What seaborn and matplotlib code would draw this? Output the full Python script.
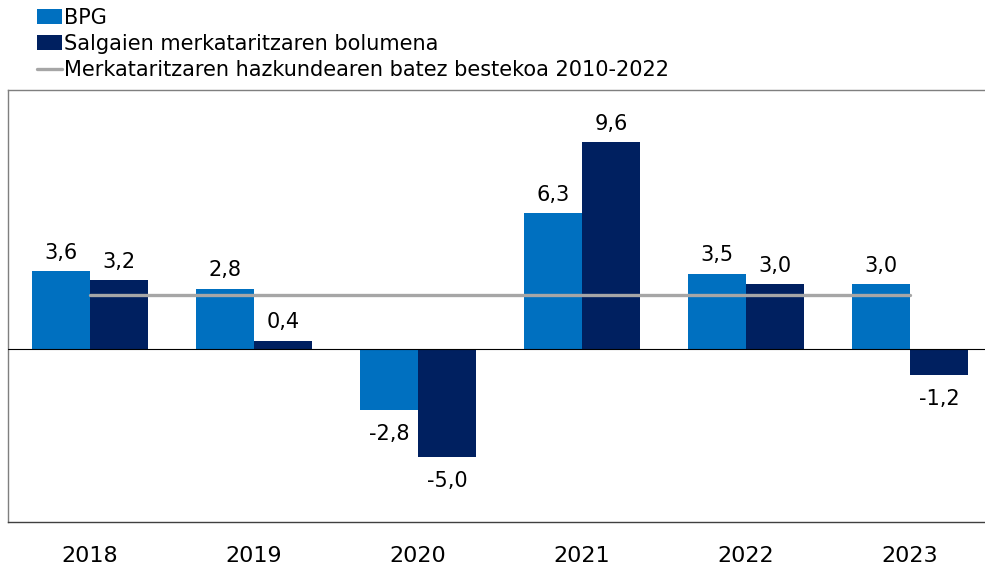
import numpy as np
import pandas as pd
import matplotlib
matplotlib.use("Agg")
import matplotlib.pyplot as plt
from matplotlib.patches import Patch
from matplotlib.lines import Line2D
import seaborn as sns

# data
years = ["2018", "2019", "2020", "2021", "2022", "2023"]
bpg = [3.6, 2.8, -2.8, 6.3, 3.5, 3.0]
merk = [3.2, 0.4, -5.0, 9.6, 3.0, -1.2]
avg_2010_2022 = [2.5, 2.5, 2.5, 2.5, 2.5, 2.5]

lbl_bpg = "BPG"
lbl_merk = "Salgaien merkataritzaren bolumena"
lbl_avg = "Merkataritzaren hazkundearen batez bestekoa 2010-2022"

c_bpg = "#0070C0"
c_merk = "#002060"
c_avg = "#A6A6A6"

sns.set_style("white")
plt.rcParams['font.family'] = ['DejaVu Sans']
plt.rcParams['text.color'] = 'black'
plt.rcParams['xtick.color'] = 'black'

df = pd.DataFrame({
    "year": years * 2,
    "value": bpg + merk,
    "series": [lbl_bpg] * len(years) + [lbl_merk] * len(years),
})

fig = plt.figure(figsize=(9.85, 5.67), dpi=100)
ax = fig.add_axes([8 / 985, 1 - 522 / 567, 984 / 985, 432 / 567])

sns.barplot(data=df, x="year", y="value", hue="series", order=years,
            hue_order=[lbl_bpg, lbl_merk], palette=[c_bpg, c_merk],
            width=0.71, ax=ax, legend=False, saturation=1, errorbar=None,
            linewidth=0)

ax.plot(range(len(years)), avg_2010_2022, color=c_avg, linewidth=2.4, zorder=3)
ax.axhline(0, color="black", linewidth=0.8, zorder=4)

ax.set_ylim(-8, 12)
ax.set_xlim(-0.5, len(years) - 0.5)
ax.set_yticks([])
ax.set_xlabel("")
ax.set_ylabel("")
ax.tick_params(axis="x", length=0, pad=17, labelsize=16, labelcolor="black")
for side in ["left", "top", "right", "bottom"]:
    ax.spines[side].set_color("#7F7F7F")
    ax.spines[side].set_linewidth(1.0)
ax.spines["bottom"].set_color("#404040")

# value labels
for cont in ax.containers:
    for rect in cont:
        v = rect.get_height()
        x = rect.get_x() + rect.get_width() / 2
        txt = f"{v:.1f}".replace(".", ",")
        if v >= 0:
            ax.annotate(txt, (x, v), xytext=(0, 6), textcoords="offset points",
                        ha="center", va="bottom", fontsize=15, color="black")
        else:
            ax.annotate(txt, (x, v), xytext=(0, -10), textcoords="offset points",
                        ha="center", va="top", fontsize=15, color="black")

handles = [Patch(facecolor=c_bpg, edgecolor="none"),
           Patch(facecolor=c_merk, edgecolor="none"),
           Line2D([0], [0], color=c_avg, linewidth=2.4)]
fig.legend(handles, [lbl_bpg, lbl_merk, lbl_avg], loc="upper left",
           bbox_to_anchor=(22 / 985, 1.012), frameon=False, fontsize=15,
           handlelength=1.2, handleheight=0.7, handletextpad=0.1,
           labelspacing=0.3, borderpad=0.2, labelcolor="black")

plt.savefig("out.png", dpi=100)
plt.close()
